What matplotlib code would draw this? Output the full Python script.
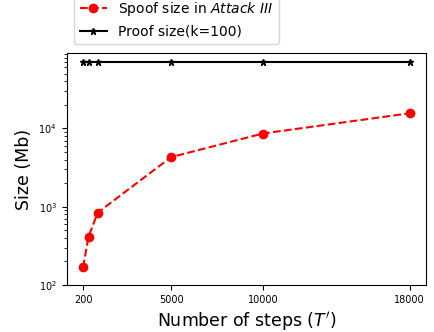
import matplotlib
matplotlib.use("Agg")
import matplotlib.pyplot as plt

steps = [200, 500, 1000, 5000, 10000, 18000]
spoof_size = [168, 415, 840, 4300, 8600, 15600]
proof_size = [70000, 70000, 70000, 70000, 70000, 70000]
xtick_vals = [200, 5000, 10000, 18000]

fig = plt.figure(figsize=(4.35, 3.32), dpi=100)
ax = fig.add_axes([66.7/435, (332-285)/332, (426-66.7)/435, (285-53.3)/332])

l1, = ax.plot(steps, spoof_size, 'r--', marker='o', markersize=6, linewidth=1.5,
              label=r'Spoof size in $\mathit{Attack\ III}$')
l2, = ax.plot(steps, proof_size, 'k-', marker='*', markersize=5, linewidth=1.5,
              label='Proof size(k=100)')
ax.set_yscale('log')
ax.set_ylim(100, 9.1e4)
ax.set_xticks(xtick_vals)
ax.set_xticklabels([str(v) for v in xtick_vals])
ax.tick_params(labelsize=7)
ax.set_xlabel("Number of steps ($T'$)", fontsize=12.5)
ax.set_ylabel("Size (Mb)", fontsize=12.5)

fig.legend(handles=[l1, l2], loc='lower left', bbox_to_anchor=(74/435, (332-44)/332),
           fontsize=10, borderaxespad=0, handlelength=2.0)

fig.savefig("out.png", dpi=100)
